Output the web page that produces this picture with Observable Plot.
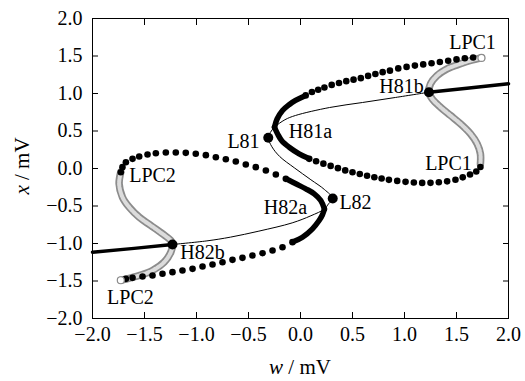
<!DOCTYPE html>
<html>
<head>
<meta charset="utf-8">
<script src="https://cdn.jsdelivr.net/npm/d3@7"></script>
<script src="https://cdn.jsdelivr.net/npm/@observablehq/plot@0.6"></script>
<style>
  body { margin: 0; background: #fff; }
</style>
</head>
<body>
<div id="chart"></div>
<script>
// ---- tick values ----
const xTicks = [-2, -1.5, -1, -0.5, 0, 0.5, 1, 1.5, 2];
const yTicks = [-2, -1.5, -1, -0.5, 0, 0.5, 1, 1.5, 2];

// ---- equilibrium curve [w, x] ----
const eqStableLeft = [[-2, -1.116], [-1.6, -1.065], [-1.231, -1.013]];
const eqStableRight = [[1.235, 1.017], [1.6, 1.07], [2, 1.13]];
const eqUnstable = [
  [-1.231, -1.013], [-0.9, -0.965], [-0.673, -0.915], [-0.4, -0.835], [-0.08, -0.725],
  [0.1, -0.63], [0.23, -0.54], [0.27, -0.47], [0.31, -0.40],
  [0.23, -0.28], [0.1, -0.15], [-0.06, 0.01], [-0.2, 0.16], [-0.275, 0.29], [-0.31, 0.41],
  [-0.29, 0.48], [-0.25, 0.55], [-0.15, 0.65], [-0.048, 0.707], [0.279, 0.813],
  [0.596, 0.88], [0.913, 0.947], [1.235, 1.017]
];

// ---- stable limit cycles (black dots), right family from H81a ----
const rightUpperDense = [[-0.25, 0.55], [-0.225, 0.66], [-0.173, 0.773], [-0.11, 0.85], [-0.048, 0.907], [0.03, 0.96]];
const rightUpperDots = [
  [0.05, 0.975], [0.11, 1.02], [0.17, 1.05], [0.23, 1.08], [0.30, 1.115], [0.37, 1.14], [0.44, 1.165],
  [0.51, 1.185], [0.58, 1.205], [0.65, 1.235], [0.72, 1.26], [0.79, 1.285], [0.86, 1.305], [0.94, 1.335],
  [1.02, 1.355], [1.10, 1.372], [1.18, 1.388], [1.26, 1.403], [1.34, 1.42], [1.42, 1.437], [1.50, 1.455],
  [1.58, 1.47], [1.66, 1.48]
];
const rightLowerDense = [[-0.25, 0.55], [-0.22, 0.46], [-0.18, 0.37], [-0.109, 0.284], [-0.013, 0.196], [0.07, 0.14]];
const rightLowerDots = [
  [0.084, 0.129], [0.15, 0.097], [0.22, 0.065], [0.29, 0.035], [0.36, 0.005], [0.43, -0.025], [0.50, -0.05],
  [0.57, -0.074], [0.64, -0.097], [0.71, -0.116], [0.78, -0.134], [0.85, -0.151], [0.93, -0.165],
  [1.01, -0.178], [1.09, -0.187], [1.17, -0.192], [1.25, -0.191], [1.33, -0.183], [1.41, -0.171],
  [1.49, -0.15], [1.56, -0.118], [1.63, -0.08], [1.69, -0.04], [1.73, 0.02]
];

// ---- stable limit cycles (black dots), left family from H82a ----
const leftUpperDense = [[0.23, -0.54], [0.195, -0.427], [0.132, -0.338], [0.051, -0.271], [-0.045, -0.204], [-0.12, -0.15]];
const leftUpperDots = [
  [-0.141, -0.138], [-0.237, -0.08], [-0.333, -0.027], [-0.43, 0.018], [-0.526, 0.053], [-0.622, 0.093],
  [-0.718, 0.124], [-0.814, 0.151], [-0.91, 0.178], [-1.007, 0.196], [-1.103, 0.209], [-1.199, 0.213],
  [-1.295, 0.213], [-1.391, 0.204], [-1.471, 0.187], [-1.551, 0.16], [-1.615, 0.129], [-1.679, 0.084],
  [-1.712, 0.018], [-1.728, -0.049]
];
const leftLowerDense = [[0.23, -0.54], [0.21, -0.62], [0.179, -0.693], [0.115, -0.804], [0.019, -0.916], [-0.06, -0.97]];
const leftLowerDots = [
  [-0.077, -0.982], [-0.173, -1.049], [-0.269, -1.093], [-0.365, -1.129], [-0.462, -1.16], [-0.558, -1.191],
  [-0.654, -1.218], [-0.75, -1.249], [-0.846, -1.28], [-0.942, -1.307], [-1.038, -1.338], [-1.135, -1.36],
  [-1.231, -1.382], [-1.327, -1.404], [-1.423, -1.427], [-1.519, -1.44], [-1.615, -1.458], [-1.679, -1.471]
];

// ---- unstable limit cycles (grey open circles) ----
const rightUnstable = [
  [1.74, 1.475], [1.635, 1.44], [1.538, 1.396], [1.41, 1.329], [1.314, 1.24], [1.25, 1.129], [1.234, 1.017],
  [1.266, 0.929], [1.346, 0.817], [1.442, 0.707], [1.538, 0.596], [1.635, 0.462], [1.699, 0.329],
  [1.73, 0.196], [1.73, 0.063]
];
const leftUnstable = [
  [-1.728, -0.049], [-1.744, -0.204], [-1.712, -0.382], [-1.647, -0.516], [-1.551, -0.649], [-1.439, -0.76],
  [-1.327, -0.871], [-1.247, -0.96], [-1.231, -1.013], [-1.247, -1.116], [-1.311, -1.249], [-1.423, -1.36],
  [-1.551, -1.427], [-1.679, -1.475], [-1.728, -1.49]
];
const lpcOpen = [[1.74, 1.475], [-1.728, -1.49]];

// ---- special points ----
const specialPoints = [[-0.31, 0.41], [0.31, -0.40], [1.235, 1.017], [-1.231, -1.013]];

// ---- labels ----
const labelNames = ["LPC1", "H81b", "H81a", "L81", "LPC1", "LPC2", "H82a", "L82", "H82b", "LPC2"];
const labelW = [1.654, 0.971, 0.096, -0.548, 1.423, -1.423, -0.144, 0.529, -0.942, -1.635];
const labelX = [1.68, 1.093, 0.493, 0.36, 0.067, -0.093, -0.52, -0.453, -1.12, -1.72];
const labels = labelNames.map((t, i) => ({t, w: labelW[i], x: labelX[i]}));

const fmt = d3.format(".1f");
const W = d => d[0], X = d => d[1];

const greyBand = (data) => [
  Plot.line(data, {x: W, y: X, curve: "catmull-rom", stroke: "#8c8c8c", strokeWidth: 7.5, strokeLinecap: "round"}),
  Plot.line(data, {x: W, y: X, curve: "catmull-rom", stroke: "#dcdcdc", strokeWidth: 4, strokeDasharray: "2.5,1.2"})
];
const dense = (data) => Plot.line(data, {x: W, y: X, curve: "catmull-rom", stroke: "black", strokeWidth: 5.5, strokeLinecap: "round"});
const dots = (data) => Plot.dot(data, {x: W, y: X, r: 3.3, fill: "black", stroke: "none"});

const plot = Plot.plot({
  width: 525,
  height: 381,
  marginLeft: 92,
  marginRight: 17,
  marginTop: 18,
  marginBottom: 63,
  x: {domain: [-2, 2]},
  y: {domain: [-2, 2]},
  style: {fontFamily: "'Liberation Serif', 'Times New Roman', serif", fontSize: "20px", background: "white", color: "black"},
  marks: [
    ...greyBand(rightUnstable),
    ...greyBand(leftUnstable),
    Plot.line(eqUnstable, {x: W, y: X, curve: "catmull-rom", stroke: "black", strokeWidth: 1}),
    Plot.line(eqStableLeft, {x: W, y: X, stroke: "black", strokeWidth: 3.5}),
    Plot.line(eqStableRight, {x: W, y: X, stroke: "black", strokeWidth: 3.5}),
    dense(rightUpperDense), dense(rightLowerDense), dense(leftUpperDense), dense(leftLowerDense),
    dots(rightUpperDots), dots(rightLowerDots), dots(leftUpperDots), dots(leftLowerDots),
    Plot.dot(lpcOpen, {x: W, y: X, r: 3.5, fill: "white", stroke: "#8c8c8c", strokeWidth: 1.2}),
    Plot.dot(specialPoints, {x: W, y: X, r: 5, fill: "black"}),
    Plot.text(labels, {x: "w", y: "x", text: "t", fill: "black", fontSize: 20}),
    Plot.frame({stroke: "black", strokeWidth: 1}),
    Plot.axisX(xTicks, {anchor: "bottom", tickSize: 0, tickPadding: 8, tickFormat: fmt, label: null}),
    Plot.axisX(xTicks, {anchor: "bottom", tickSize: -6, tickFormat: () => "", label: null}),
    Plot.axisX(xTicks, {anchor: "top", tickSize: -6, tickFormat: () => "", label: null}),
    Plot.axisY(yTicks, {anchor: "left", tickSize: 0, tickPadding: 10, tickFormat: fmt, label: null}),
    Plot.axisY(yTicks, {anchor: "left", tickSize: -6, tickFormat: () => "", label: null}),
    Plot.axisY(yTicks, {anchor: "right", tickSize: -6, tickFormat: () => "", label: null})
  ]
});

document.getElementById("chart").appendChild(plot);

const svg = d3.select(plot);
const xl = svg.append("text").attr("x", 300).attr("y", 374).attr("text-anchor", "middle")
  .attr("font-size", 21).attr("fill", "black");
xl.append("tspan").attr("font-style", "italic").text("w");
xl.append("tspan").text(" / mV");
const yl = svg.append("text").attr("transform", "translate(29,166) rotate(-90)").attr("text-anchor", "middle")
  .attr("font-size", 21).attr("fill", "black");
yl.append("tspan").attr("font-style", "italic").text("x");
yl.append("tspan").text(" / mV");
</script>
</body>
</html>
